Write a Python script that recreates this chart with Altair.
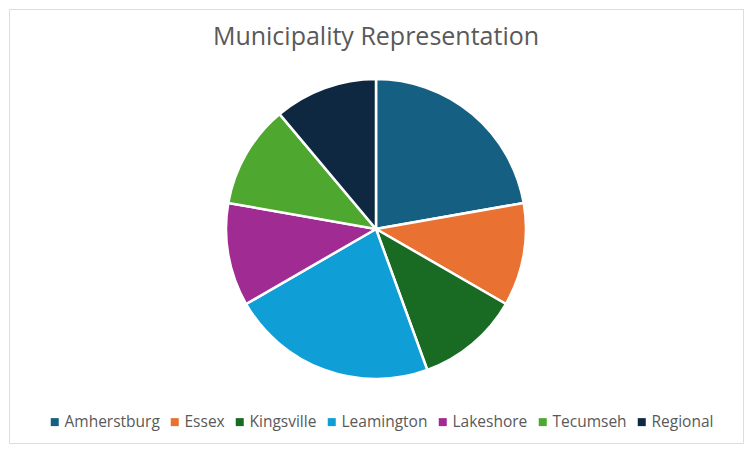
import altair as alt
import pandas as pd

categories = ["Amherstburg", "Essex", "Kingsville", "Leamington", "Lakeshore", "Tecumseh", "Regional"]
values = [2, 1, 1, 2, 1, 1, 1]
colors = ["#156082", "#E97132", "#196B24", "#0F9ED5", "#A02B93", "#4EA72E", "#0E2841"]

df = pd.DataFrame({"Municipality": categories, "Count": values, "idx": list(range(len(categories)))})

W, H = 734, 434
FONT = "Open Sans"

pie = alt.Chart(df).mark_arc(outerRadius=150, stroke="white", strokeWidth=2.5).encode(
    theta=alt.Theta("Count:Q", stack=True),
    order=alt.Order("idx:Q"),
    x=alt.value(367),
    y=alt.value(220),
    color=alt.Color(
        "Municipality:N",
        sort=categories,
        scale=alt.Scale(domain=categories, range=colors),
        legend=alt.Legend(
            title=None,
            orient="none",
            legendX=38,
            legendY=405,
            direction="horizontal",
            columns=7,
            symbolType="square",
            symbolSize=64,
            symbolStrokeWidth=0,
            labelFont=FONT,
            labelFontSize=15.5,
            labelColor="#595959",
            columnPadding=7,
            labelOffset=2,
        ),
    ),
)

title = alt.Chart(pd.DataFrame({"t": ["Municipality Representation"]})).mark_text(
    font=FONT, fontSize=25, color="#595959", baseline="middle", align="center"
).encode(text="t:N", x=alt.value(367), y=alt.value(28))

chart = alt.layer(pie, title).properties(
    width=W, height=H, padding={"left": 1, "top": 1, "right": 1, "bottom": 1},
    autosize=alt.AutoSizeParams(type="none")
).configure_view(stroke="#D9D9D9", strokeWidth=1.5).configure(background="white")

chart.save("out.html", embed_options={"renderer": "svg", "actions": False})
